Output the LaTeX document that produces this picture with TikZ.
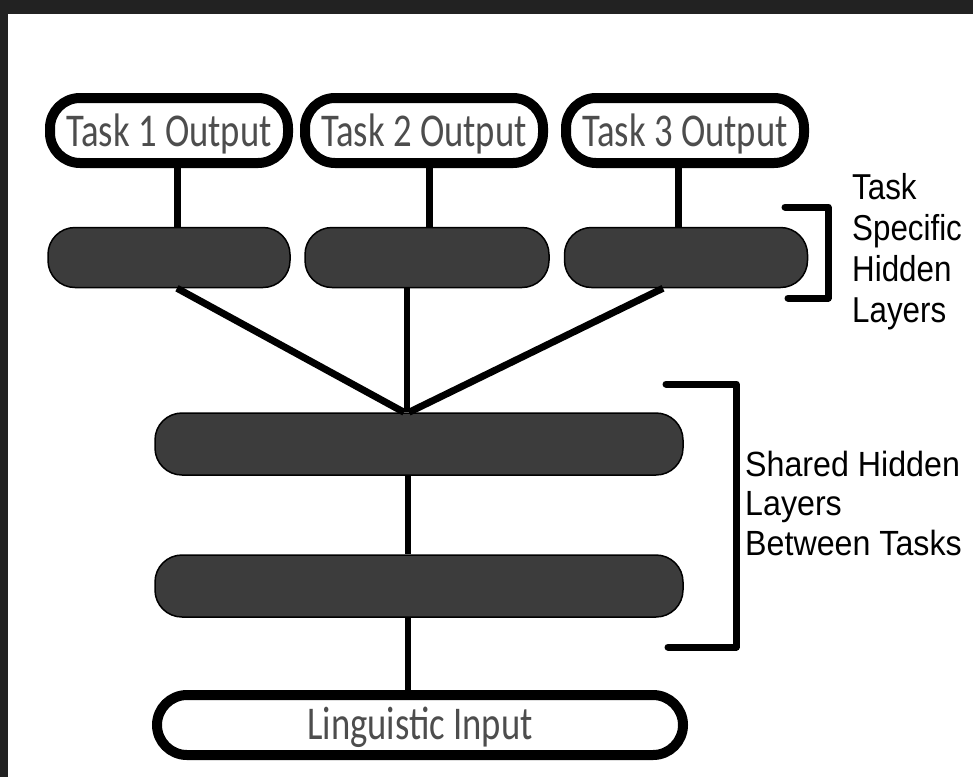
\documentclass[tikz,border=0pt]{standalone}
\usepackage{fontspec}
\newfontfamily\boxfont[FakeStretch=0.78]{Carlito}
\newfontfamily\sidefont[FakeStretch=0.87]{Liberation Sans}
\newfontfamily\sharedfont[FakeStretch=0.92]{Liberation Sans}
\definecolor{layergray}{HTML}{3C3C3C}
\definecolor{textgray}{HTML}{4D4D4D}
\definecolor{framedark}{HTML}{222222}
% set a caption with its baseline a fixed distance below the node centre
\newcommand{\boxcaption}[2]{\raisebox{-#1}[0pt][0pt]{#2}}

\begin{document}
\begin{tikzpicture}[x=1pt,y=-1pt,
  outbox/.style={draw=black, line width=10pt, fill=white, rounded corners=30pt,
    minimum width=238pt, minimum height=65pt, inner sep=0pt,
    font=\boxfont\fontsize{47}{50}\selectfont, text=textgray},
  layer/.style={draw=black, line width=1.5pt, fill=layergray, rounded corners=27pt,
    minimum height=60pt, inner sep=0pt},
  link/.style={line width=7pt},
  thinlink/.style={line width=6pt},
  bracket/.style={line width=7pt, line cap=round, line join=round},
  sidelabel/.style={anchor=base west, inner sep=0pt,
    font=\sidefont\fontsize{36}{41}\selectfont, text=black},
  sharedlabel/.style={anchor=base west, inner sep=0pt,
    font=\sharedfont\fontsize{35}{40}\selectfont, text=black}
]
\useasboundingbox (0,0) rectangle (973,777);
% dark frame on the top and left edges
\fill[framedark] (0,0) rectangle (973,777);
\fill[white] (8,14) rectangle (973,777);

% task outputs
\node[outbox] (t1) at (169,130.5) {\boxcaption{16pt}{Task 1 Output}};
\node[outbox] (t2) at (424,130.5) {\boxcaption{16pt}{Task 2 Output}};
\node[outbox] (t3) at (685,130.5) {\boxcaption{16pt}{Task 3 Output}};

% task specific hidden layers
\node[layer, minimum width=242pt] (h1) at (169,257.5) {};
\node[layer, minimum width=244pt] (h2) at (427,257.5) {};
\node[layer, minimum width=243pt] (h3) at (686,257.5) {};

% shared hidden layers
\node[layer, minimum width=528pt, minimum height=62pt] (s1) at (419,444) {};
\node[layer, minimum width=528pt, minimum height=62pt] (s2) at (419,586) {};

% input
\node[outbox, minimum width=526pt, minimum height=60pt] (lin) at (420,725) {\boxcaption{14pt}{Linguistic Input}};

% connectors
\draw[link] ([xshift=8pt]t1.south) -- ([xshift=8pt]h1.north);
\draw[link] ([xshift=5pt]t2.south) -- ([xshift=2pt]h2.north);
\draw[link] ([xshift=-7pt]t3.south) -- ([xshift=-8pt]h3.north);

\coordinate (j) at ([xshift=-15pt]s1.north);
\draw[link] ([xshift=8pt]h1.south) -- (j);
\draw[thinlink] ([xshift=-20pt]h2.south) -- ([xshift=-12pt]s1.north);
\draw[link] ([xshift=-23pt]h3.south) -- ([xshift=-10pt]s1.north);

\draw[thinlink] ([xshift=-11pt]s1.south) -- ([xshift=-11pt]s2.north);
\draw[thinlink] ([xshift=-11pt]s2.south) -- ([xshift=-12pt]lin.north);

% brackets
\draw[bracket] (785,207) -- (828,207) -- (828,298) -- (788,298);
\draw[bracket] (666,384) -- (736,384) -- (736,647) -- (668,647);

% bracket labels
\node[sidelabel] (ts1) at (852,199) {Task};
\node[sidelabel] (ts2) at (852,240) {Specific};
\node[sidelabel] (ts3) at (852,281) {Hidden};
\node[sidelabel] (ts4) at (852,322) {Layers};

\node[sharedlabel] (sh1) at (745,476) {Shared Hidden};
\node[sharedlabel] (sh2) at (745,515) {Layers};
\node[sharedlabel] (sh3) at (745,555) {Between Tasks};
\end{tikzpicture}
\end{document}
